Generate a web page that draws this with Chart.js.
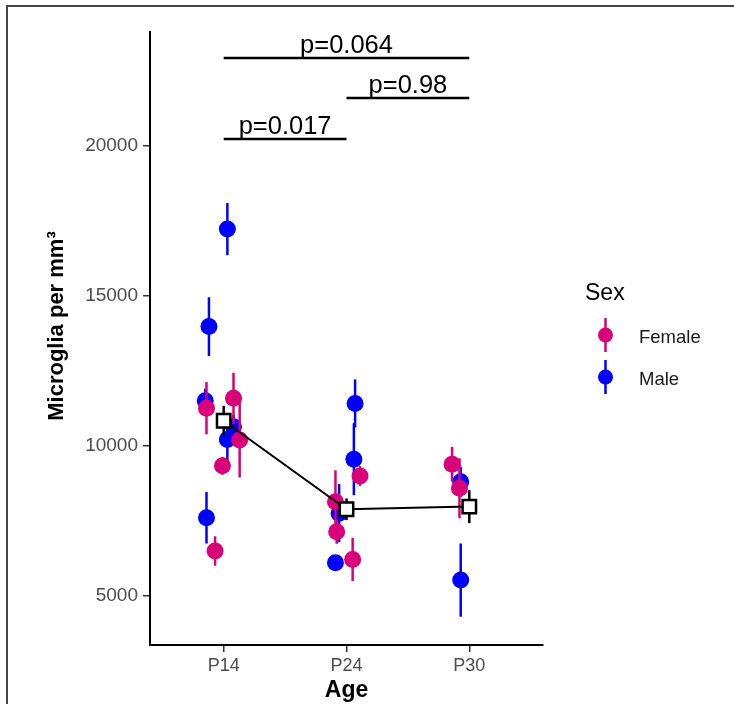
<!DOCTYPE html>
<html>
<head>
<meta charset="utf-8">
<script src="https://cdn.jsdelivr.net/npm/chart.js@4.4.0/dist/chart.umd.min.js"></script>
<style>
html, body { margin: 0; padding: 0; background: #fff; }
#frame { position: absolute; left: 6px; top: 5px; width: 740px; height: 720px; border-left: 2px solid #444; border-top: 2px solid #444; }
#wrap { position: absolute; left: 0; top: 0; width: 734px; height: 704px; }
</style>
</head>
<body>
<div id="frame"></div>
<div id="wrap"><canvas id="microgliaChart" width="734" height="704"></canvas></div>
<script>
// microglia density by age, one point per animal (mean +/- error), jittered around the age
var ageLabels = ["P14", "P24", "P30"];
var yTicks = [5000, 10000, 15000, 20000];

var femaleX   = [0.86, 1.08, 1.13, 0.99, 0.93, 2.11, 1.91, 1.92, 2.05, 2.86, 2.92];
var femaleY   = [11260, 11590, 10200, 9340, 6500, 9000, 8140, 7140, 6220, 9390, 8590];
var femaleErr = [870, 850, 1250, 300, 490, 330, 1050, 400, 720, 580, 1000];

var maleX   = [1.03, 0.88, 0.85, 1.08, 1.03, 0.86, 2.07, 2.06, 1.94, 1.91, 2.93, 2.93];
var maleY   = [17230, 13980, 11510, 10640, 10220, 7610, 11420, 9560, 7760, 6110, 8810, 5530];
var maleErr = [870, 980, 400, 400, 720, 860, 800, 1200, 970, 200, 500, 1220];

// group means
var meanX   = [1, 2, 3];
var meanY   = [10840, 7890, 7980];
var meanErr = [500, 360, 550];

// pairwise comparisons
var compFrom  = [1, 2, 1];
var compTo    = [2, 3, 3];
var compY     = [20230, 21600, 22930];
var compLabel = ["p=0.017", "p=0.98", "p=0.064"];

var femaleColor = "#D9017A";
var maleColor = "#0000FF";
var fontFamily = "'Liberation Sans', Arial, sans-serif";

function toPoints(xs, ys) {
  return xs.map(function(x, i) { return { x: x, y: ys[i] }; });
}

Chart.defaults.font.family = fontFamily;

// vertical error bars, drawn under each dataset's points
var errorBars = {
  id: 'errorBars',
  beforeDatasetDraw: function(chart, args) {
    var ds = chart.data.datasets[args.index];
    if (!ds.errors) return;
    var ctx = chart.ctx, xs = chart.scales.x, ys = chart.scales.y;
    ctx.save();
    ctx.strokeStyle = ds.errorColor;
    ctx.lineWidth = ds.errorWidth;
    ds.data.forEach(function(p, i) {
      var px = xs.getPixelForValue(p.x);
      ctx.beginPath();
      ctx.moveTo(px, ys.getPixelForValue(p.y - ds.errors[i]));
      ctx.lineTo(px, ys.getPixelForValue(p.y + ds.errors[i]));
      ctx.stroke();
    });
    ctx.restore();
  }
};

// significance lines with p-values
var brackets = {
  id: 'brackets',
  afterDatasetsDraw: function(chart) {
    var ctx = chart.ctx, xs = chart.scales.x, ys = chart.scales.y;
    ctx.save();
    ctx.strokeStyle = '#000';
    ctx.lineWidth = 2.5;
    ctx.fillStyle = '#000';
    ctx.font = "25.5px " + fontFamily;
    ctx.textAlign = 'center';
    ctx.textBaseline = 'alphabetic';
    for (var i = 0; i < compLabel.length; i++) {
      var x1 = xs.getPixelForValue(compFrom[i]);
      var x2 = xs.getPixelForValue(compTo[i]);
      var y = ys.getPixelForValue(compY[i]);
      ctx.beginPath();
      ctx.moveTo(x1, y);
      ctx.lineTo(x2, y);
      ctx.stroke();
      ctx.fillText(compLabel[i], (x1 + x2) / 2, y - 5);
    }
    ctx.restore();
  }
};

// y axis title, centred a little above the panel middle
var yTitle = {
  id: 'yTitle',
  afterDraw: function(chart) {
    var ctx = chart.ctx;
    ctx.save();
    ctx.translate(57, 326);
    ctx.rotate(-Math.PI / 2);
    ctx.fillStyle = '#000';
    ctx.font = "bold 22px " + fontFamily;
    ctx.textAlign = 'center';
    ctx.textBaseline = 'middle';
    ctx.fillText('Microglia per mm³', 0, 0);
    ctx.restore();
  }
};

// legend on the right: point with a short range line
var sexLegend = {
  id: 'sexLegend',
  afterDraw: function(chart) {
    var ctx = chart.ctx;
    var items = [["Female", femaleColor], ["Male", maleColor]];
    ctx.save();
    ctx.fillStyle = '#000';
    ctx.font = "23px " + fontFamily;
    ctx.textBaseline = 'alphabetic';
    ctx.fillText("Sex", 585, 300);
    ctx.font = "18.5px " + fontFamily;
    items.forEach(function(it, i) {
      var cy = 335 + i * 42;
      ctx.strokeStyle = it[1];
      ctx.lineWidth = 2.5;
      ctx.beginPath();
      ctx.moveTo(605.5, cy - 17);
      ctx.lineTo(605.5, cy + 17);
      ctx.stroke();
      ctx.fillStyle = it[1];
      ctx.beginPath();
      ctx.arc(605.5, cy, 7.5, 0, Math.PI * 2);
      ctx.fill();
      ctx.fillStyle = '#1a1a1a';
      ctx.fillText(it[0], 639, cy + 7.5);
    });
    ctx.restore();
  }
};

var axisGrid = { display: true, drawOnChartArea: false, drawTicks: true, tickLength: 7, color: '#333', lineWidth: 1.5 };
var axisBorder = { display: true, color: '#000', width: 2 };

var ctxMicroglia = document.getElementById('microgliaChart').getContext('2d');
var chartMicroglia = new Chart(ctxMicroglia, {
  type: 'scatter',
  data: {
    datasets: [{
      label: 'Mean',
      data: toPoints(meanX, meanY),
      errors: meanErr,
      errorColor: '#000',
      errorWidth: 2.5,
      showLine: true,
      borderColor: '#000',
      borderWidth: 2,
      pointStyle: 'rect',
      pointRadius: 9.5,
      pointBackgroundColor: '#fff',
      pointBorderColor: '#000',
      pointBorderWidth: 2.5
    }, {
      label: 'Female',
      data: toPoints(femaleX, femaleY),
      errors: femaleErr,
      errorColor: femaleColor,
      errorWidth: 2.5,
      pointRadius: 8.5,
      pointBorderWidth: 0,
      backgroundColor: femaleColor
    }, {
      label: 'Male',
      data: toPoints(maleX, maleY),
      errors: maleErr,
      errorColor: maleColor,
      errorWidth: 2.5,
      pointRadius: 8.5,
      pointBorderWidth: 0,
      backgroundColor: maleColor
    }]
  },
  options: {
    responsive: false,
    animation: false,
    layout: { padding: { left: 40, right: 191, top: 32, bottom: 0 } },
    plugins: {
      legend: { display: false },
      tooltip: { enabled: false }
    },
    scales: {
      x: {
        type: 'linear',
        min: 0.4,
        max: 3.6,
        afterBuildTicks: function(axis) { axis.ticks = meanX.map(function(v) { return { value: v }; }); },
        afterFit: function(axis) { axis.height = 59; },
        ticks: {
          callback: function(v, i) { return ageLabels[i]; },
          color: '#4d4d4d',
          font: { size: 18 },
          padding: 3
        },
        grid: axisGrid,
        border: axisBorder,
        title: { display: true, text: 'Age', color: '#000', font: { size: 23, weight: 'bold' }, padding: { top: 0, bottom: 0 } }
      },
      y: {
        type: 'linear',
        min: 3367,
        max: 23800,
        afterBuildTicks: function(axis) { axis.ticks = yTicks.map(function(v) { return { value: v }; }); },
        afterFit: function(axis) { axis.width = 110; },
        ticks: {
          callback: function(v) { return String(v); },
          color: '#4d4d4d',
          font: { size: 19 },
          padding: 5
        },
        grid: axisGrid,
        border: axisBorder,
        title: { display: false }
      }
    }
  },
  plugins: [errorBars, brackets, yTitle, sexLegend]
});
</script>
</body>
</html>
